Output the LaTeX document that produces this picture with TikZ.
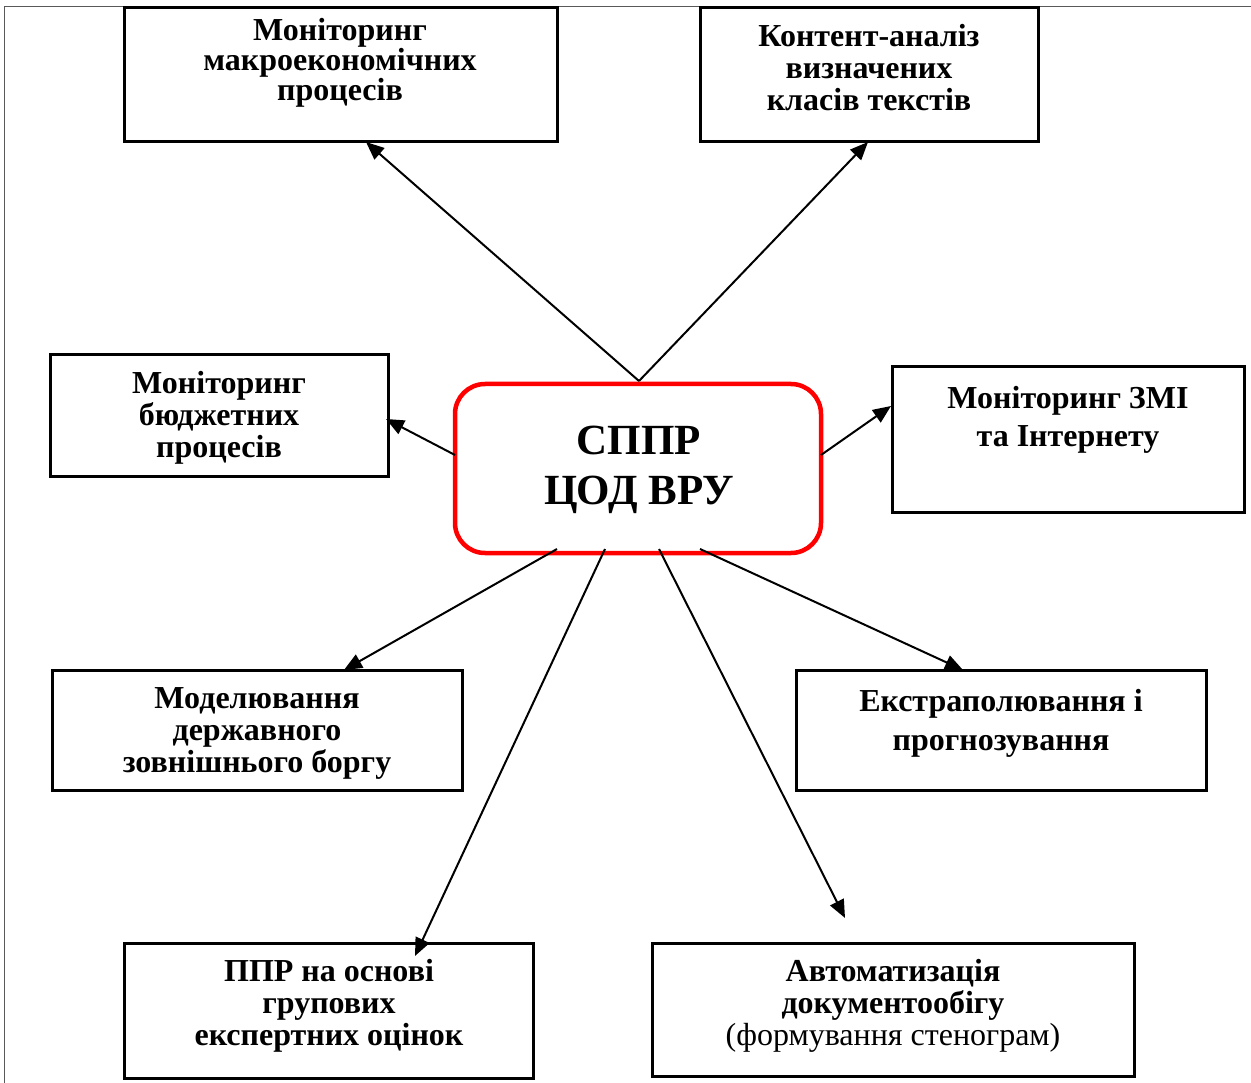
\documentclass[tikz,border=0pt]{standalone}
\usepackage{fontspec}
\setmainfont{Liberation Serif}
\usetikzlibrary{arrows.meta}
\begin{document}
\begin{tikzpicture}[x=1pt,y=-1pt,
  box/.style={draw=black,line width=3pt},
  txt/.style={align=center,font=\fontsize{32}{32}\selectfont\bfseries},
  arr/.style={draw=black,line width=2pt,-{Triangle[length=18pt,width=15pt]}}]
\useasboundingbox (0,0) rectangle (1251,1083);
\draw[gray!70!black,line width=1pt] (4,1083) -- (4,7) -- (1251,7);
% boxes
\draw[box] (124,8) rectangle (557,142);
\node[txt,font=\fontsize{32}{26}\selectfont\bfseries] (b1) at (340,63) {Моніторинг\\макроекономічних\\процесів};
\coordinate (b1s) at (366,142);
\draw[box] (700,8) rectangle (1038,142);
\node[txt] (b2) at (869,68) {Контент-аналіз\\визначених\\класів текстів};
\coordinate (b2s) at (868,142);
\draw[box] (50,355) rectangle (388,476);
\node[txt] (b3) at (219,418) {Моніторинг\\бюджетних\\процесів};
\coordinate (b3e) at (386,419);
\draw[box] (892,367) rectangle (1244,512);
\node[txt,font=\fontsize{32}{38}\selectfont\bfseries] (b4) at (1068,420) {Моніторинг ЗМІ\\та Інтернету};
\coordinate (b4w) at (891,406);
\draw[box] (52,670) rectangle (462,790);
\node[txt] (b5) at (257,733) {Моделювання\\державного\\зовнішнього боргу};
\coordinate (b5n) at (344,670);
\draw[box] (796,670) rectangle (1206,790);
\node[txt,font=\fontsize{32}{39}\selectfont\bfseries] (b6) at (1001,723) {Екстраполювання і\\прогнозування};
\coordinate (b6n) at (963,670);
\draw[box] (124,943) rectangle (533,1078);
\node[txt] (b7) at (329,1006) {ППР на основі\\групових\\експертних оцінок};
\coordinate (b7n) at (415,956);
\draw[box] (652,943) rectangle (1134,1076);
\node[txt,font=\fontsize{32}{32}\selectfont] (b8) at (893,1006) {\textbf{Автоматизація}\\\textbf{документообігу}\\(формування стенограм)};
\coordinate (b8n) at (845,918);
% center
\draw[red,line width=4.5pt,rounded corners=30pt] (455,384) rectangle (821,553);
\node[align=center,font=\fontsize{43}{50}\selectfont\bfseries] (c) at (639,470) {СППР\\ЦОД ВРУ};
\coordinate (ct) at (639,381);
\coordinate (cl) at (455,455);
\coordinate (cr) at (821,455);
\coordinate (c1) at (557,549);
\coordinate (c2) at (605,549);
\coordinate (c3) at (659,549);
\coordinate (c4) at (700,549);
% arrows
\draw[arr] (ct) -- (b1s);
\draw[arr] (ct) -- (b2s);
\draw[arr] (cl) -- (b3e);
\draw[arr] (cr) -- (b4w);
\draw[arr] (c1) -- (b5n);
\draw[arr] (c2) -- (b7n);
\draw[arr] (c3) -- (b8n);
\draw[arr] (c4) -- (b6n);
\end{tikzpicture}
\end{document}
